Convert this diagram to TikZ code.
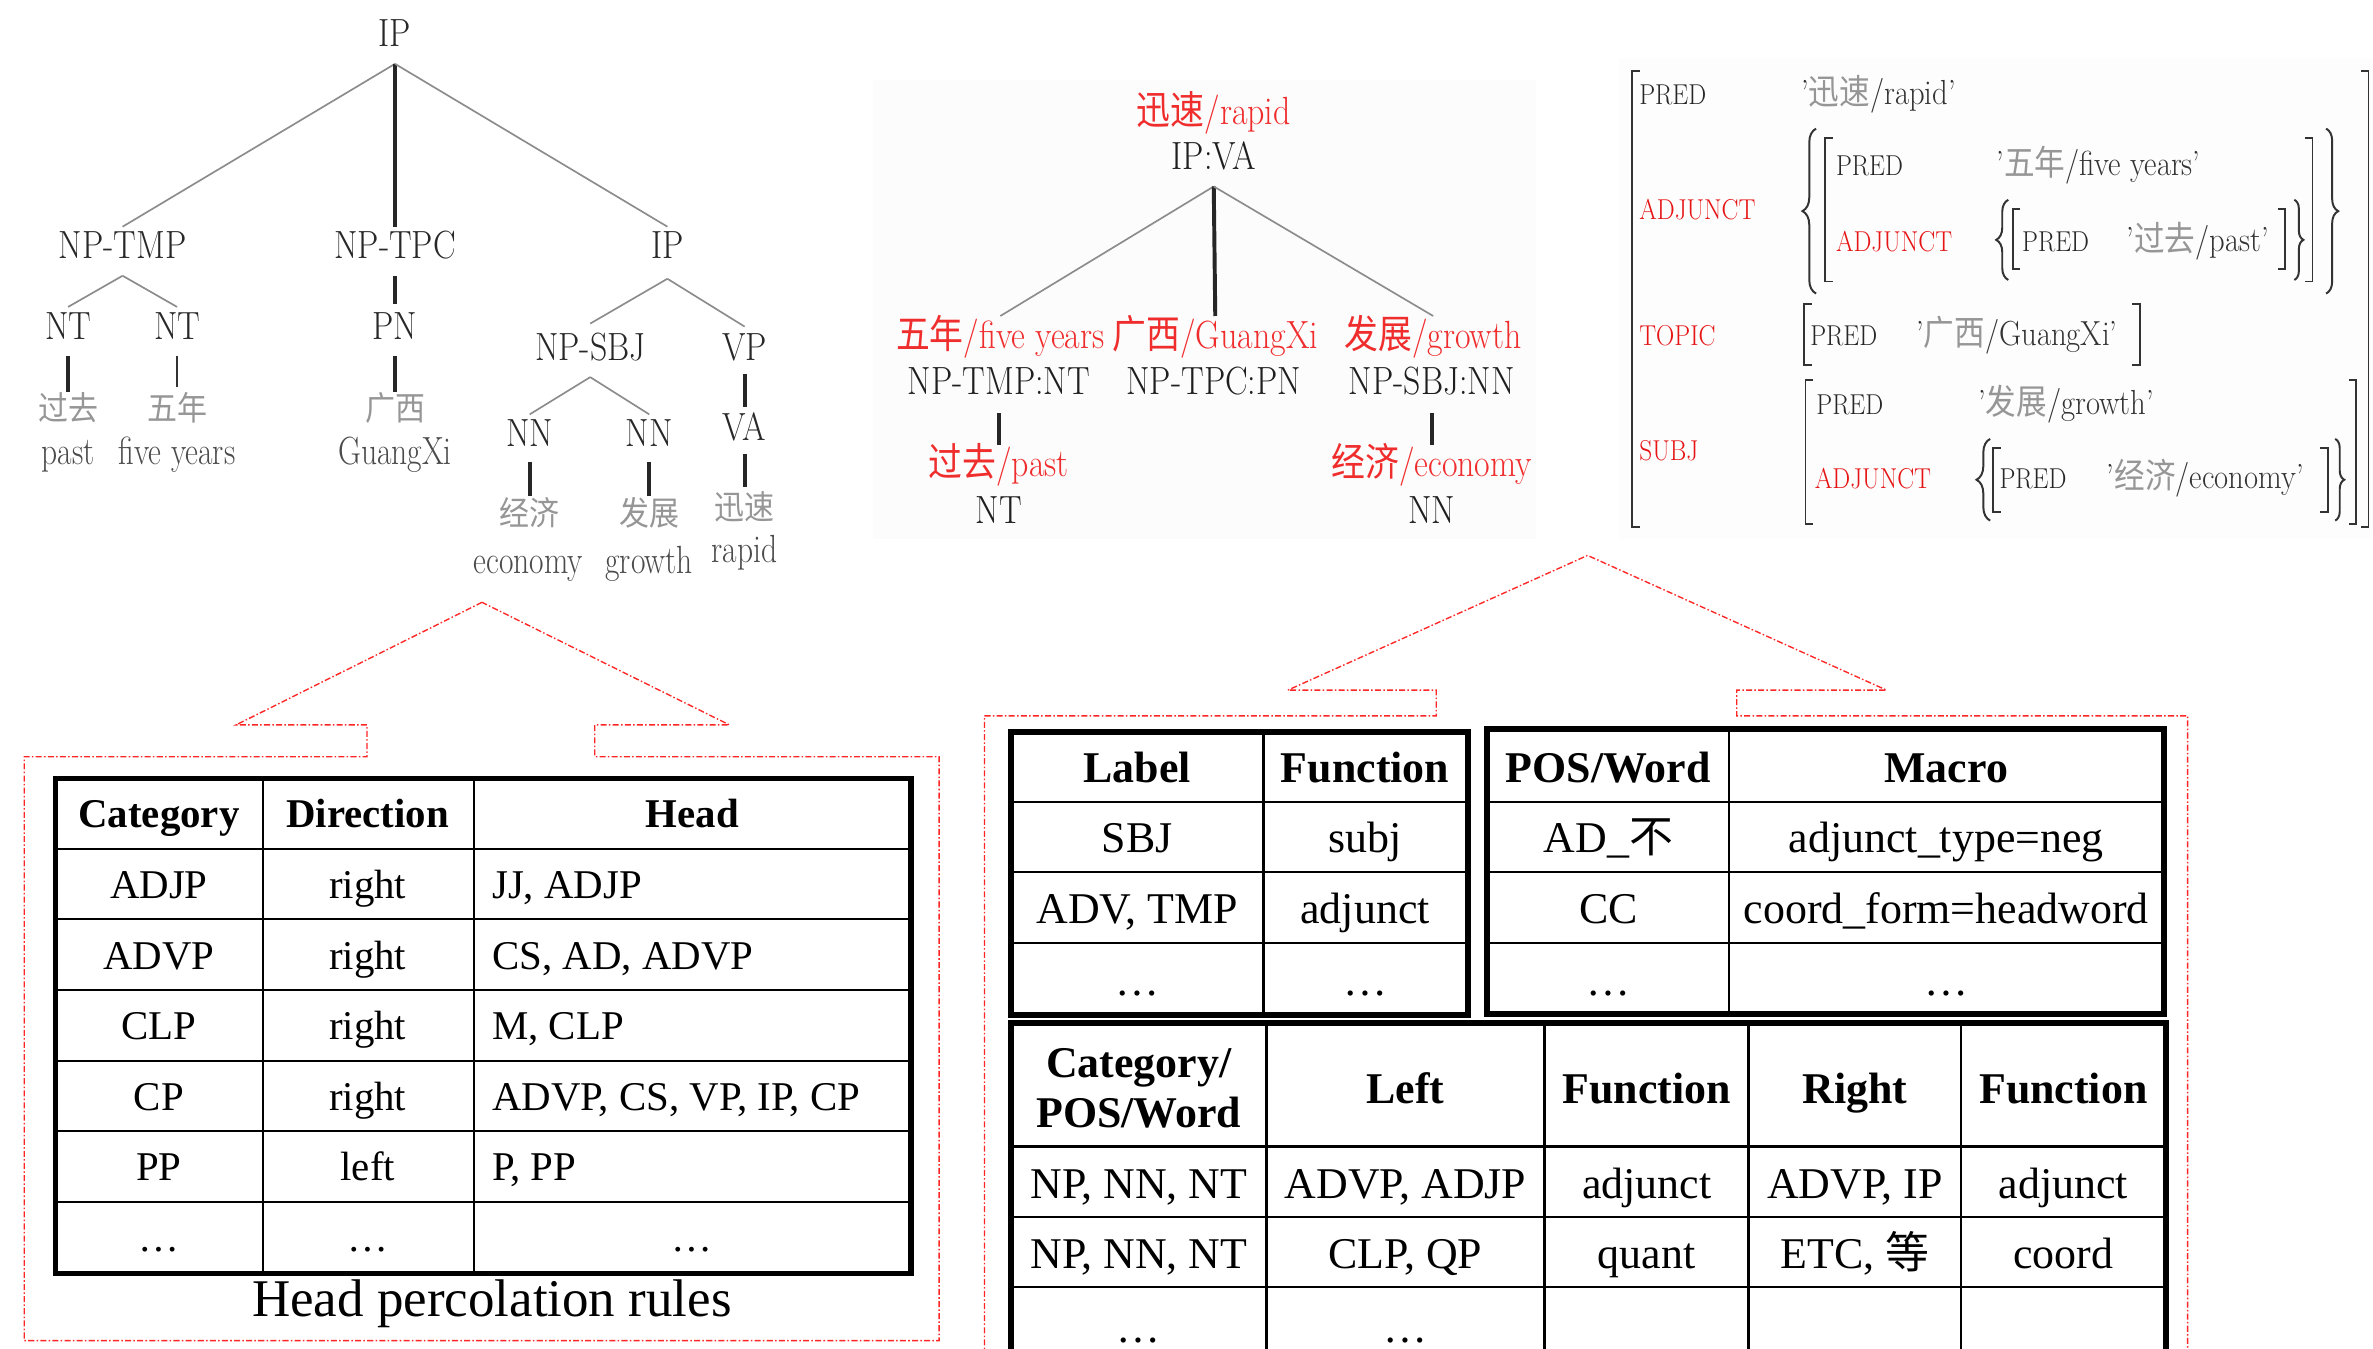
\documentclass[tikz,border=0pt]{standalone}
\usepackage{fontspec}
\newfontfamily\cjk{Noto Sans CJK SC}
\newfontfamily\tms{Liberation Serif}
\usetikzlibrary{decorations.pathreplacing}
\definecolor{rd}{RGB}{240,45,45}
\definecolor{avred}{RGB}{230,20,20}
\definecolor{lblc}{RGB}{40,40,40}
\definecolor{cjkg}{RGB}{150,150,150}
\definecolor{engg}{RGB}{75,75,75}
\definecolor{edgeg}{RGB}{140,140,140}
\newcommand{\sx}[1]{\scalebox{0.86}[1]{#1}}
\newcommand{\sw}[1]{\scalebox{0.8}[1]{#1}}
\newcommand{\sa}[1]{\scalebox{0.88}[1]{#1}}
\newcommand{\zh}[1]{{\cjk #1}}
\newcommand{\zg}[1]{{\cjk\color{cjkg}#1}}
\newcommand{\lbr}[3]{\draw[bk] (#1+5,#2) -- (#1,#2) -- (#1,#3) -- (#1+5,#3);}
\newcommand{\rbr}[3]{\draw[bk] (#1-5,#2) -- (#1,#2) -- (#1,#3) -- (#1-5,#3);}
\begin{document}
\begin{tikzpicture}[x=1pt,y=-1pt,
  tl/.style={font=\fontsize{26}{30}\selectfont, text=lblc, inner sep=0pt, anchor=base, text height=18pt, text depth=0pt},
  tz/.style={font=\fontsize{22}{26}\selectfont\cjk, text=cjkg, inner sep=0pt, anchor=base, text height=17pt, text depth=0pt},
  tw/.style={font=\fontsize{26}{30}\selectfont, text=engg, inner sep=0pt, anchor=base, text height=18pt, text depth=0pt},
  tr/.style={tl, text=rd},
  tb/.style={tl, text=black!88},
  ge/.style={draw=edgeg, line width=1.1pt},
  be/.style={draw=black!85, line width=2.6pt},
  al/.style={font=\fontsize{19}{22}\selectfont, text=black!85, inner sep=0pt, anchor=base west},
  alr/.style={al, text=avred},
  av/.style={font=\fontsize{23}{26}\selectfont, text=black!80, inner sep=0pt, anchor=base west},
  bk/.style={draw=black!80, line width=1.3pt},
  brc/.style={draw=black!80, line width=1.3pt, decorate, decoration={brace, amplitude=#1, aspect=0.5}},
  lt/.style={font=\tms\fontsize{27}{31}\selectfont, inner sep=0pt, anchor=base},
  ltb/.style={font=\tms\bfseries\fontsize{27}{31}\selectfont, inner sep=0pt, anchor=base},
  rt/.style={font=\tms\fontsize{29}{33}\selectfont, inner sep=0pt, anchor=base},
  rtb/.style={font=\tms\bfseries\fontsize{29}{33}\selectfont, inner sep=0pt, anchor=base},
  tbo/.style={line width=3.5pt},
  tbi/.style={line width=1.3pt},
  tro/.style={line width=4pt},
  tri/.style={line width=1.7pt},
  dsh/.style={draw=red!85!white, line width=0.9pt, dash pattern=on 4pt off 1.5pt on 1pt off 1.5pt},
]
\useasboundingbox (0,0) rectangle (1568,891);
\fill[white] (0,0) rectangle (1568,891);
\fill[black!1] (577,53) rectangle (1015,356);
\fill[black!0.7] (1070,38) rectangle (1568,356);

% ---------------- Tree 1 ----------------
\node[tl] (ipA) at (261,31) {\sx{IP}};
\node[tl] (nptmp) at (81,171) {\sx{NP-TMP}};
\node[tl] (nptpc) at (261,171) {\sx{NP-TPC}};
\node[tl] (ipB) at (441,171) {\sx{IP}};
\node[tl] (ntA) at (45,224) {\sx{NT}};
\node[tl] (ntB) at (117,224) {\sx{NT}};
\node[tl] (pnA) at (261,224) {\sx{PN}};
\node[tz] (zA) at (45,278) {\scalebox{0.9}[1]{过去}};
\node[tz] (zB) at (117,278) {\scalebox{0.9}[1]{五年}};
\node[tz] (zC) at (261,278) {\scalebox{0.9}[1]{广西}};
\node[tw] (wA) at (45,307) {\sw{past}};
\node[tw] (wB) at (117,307) {\sw{five years}};
\node[tw] (wC) at (261,307) {\sw{GuangXi}};
\node[tl] (npsbj) at (390,238) {\sx{NP-SBJ}};
\node[tl] (vpA) at (492,238) {\sx{VP}};
\node[tl] (nnA) at (350,295) {\sx{NN}};
\node[tl] (nnB) at (429,295) {\sx{NN}};
\node[tl] (vaA) at (492,291) {\sx{VA}};
\node[tz] (zD) at (350,347) {\scalebox{0.9}[1]{经济}};
\node[tz] (zE) at (429,347) {\scalebox{0.9}[1]{发展}};
\node[tz] (zF) at (492,343) {\scalebox{0.9}[1]{迅速}};
\node[tw] (wD) at (349,379) {\sw{economy}};
\node[tw] (wE) at (429,379) {\sw{growth}};
\node[tw] (wF) at (492,372) {\sw{rapid}};

\draw[ge] ([yshift=-11pt]ipA.south) -- ([yshift=3pt]nptmp.north);
\draw[be] ([yshift=-11pt]ipA.south) -- ([yshift=3pt]nptpc.north);
\draw[ge] ([yshift=-11pt]ipA.south) -- ([yshift=3pt]ipB.north);
\draw[ge] ([yshift=-11pt]nptmp.south) -- ([yshift=3pt]ntA.north);
\draw[ge] ([yshift=-11pt]nptmp.south) -- ([yshift=3pt]ntB.north);
\draw[be] ([yshift=-11pt]ntA.south) -- ([yshift=2pt]zA.north);
\draw[draw=black!80, line width=1.1pt] ([yshift=-11pt]ntB.south) -- ([yshift=5pt]zB.north);
\draw[be] ([yshift=-11pt]nptpc.south) -- ([yshift=5pt]pnA.north);
\draw[be] ([yshift=-11pt]pnA.south) -- ([yshift=2pt]zC.north);
\draw[ge] ([yshift=-13pt]ipB.south) -- ([yshift=6pt]npsbj.north);
\draw[ge] ([yshift=-13pt]ipB.south) -- ([yshift=4pt]vpA.north);
\draw[ge] ([yshift=-11pt]npsbj.south) -- ([yshift=3pt]nnA.north);
\draw[ge] ([yshift=-11pt]npsbj.south) -- ([yshift=3pt]nnB.north);
\draw[be] ([yshift=-10pt]nnA.south) -- ([yshift=2pt]zD.north);
\draw[be] ([yshift=-10pt]nnB.south) -- ([yshift=2pt]zE.north);
\draw[be] ([yshift=-9pt]vpA.south) -- ([yshift=4pt]vaA.north);
\draw[be] ([yshift=-9pt]vaA.south) -- ([yshift=4pt]zF.north);

% ---------------- Tree 2 ----------------
\node[tr] (rT) at (802,82) {\sx{\zh{迅速}/rapid}};
\node[tb] (ipva) at (802,112) {\sx{IP:VA}};
\node[tr] (rL) at (661,230) {\sx{\zh{五年}/five years}};
\node[tr] (rM) at (803,230) {\sx{\zh{广西}/GuangXi}};
\node[tr] (rR) at (947,230) {\sx{\zh{发展}/growth}};
\node[tb] (cL) at (660,261) {\sx{NP-TMP:NT}};
\node[tb] (cM) at (802,261) {\sx{NP-TPC:PN}};
\node[tb] (cR) at (946,261) {\sx{NP-SBJ:NN}};
\node[tr] (rL2) at (660,315) {\sx{\zh{过去}/past}};
\node[tr] (rR2) at (946,315) {\sx{\zh{经济}/economy}};
\node[tb] (cL2) at (660,346) {\sx{NT}};
\node[tb] (cR2) at (946,346) {\sx{NN}};
\draw[ge] ([yshift=-11pt]ipva.south) -- ([yshift=3pt]rL.north);
\draw[be] ([yshift=-11pt]ipva.south) -- ([yshift=3pt]rM.north);
\draw[ge] ([yshift=-11pt]ipva.south) -- ([yshift=3pt]rR.north);
\draw[be] ([yshift=-12pt]cL.south) -- ([yshift=3pt]rL2.north);
\draw[be] ([yshift=-12pt]cR.south) -- ([yshift=3pt]rR2.north);

% ---------------- AVM ----------------
\node[al] (p0) at (1083,69) {\sa{PRED}};
\node[av] (v0) at (1190,69) {\sa{'\zg{迅速}/rapid'}};
\node[alr] (a0) at (1083,145) {\sa{ADJUNCT}};
\node[al] (p1) at (1213,116) {\sa{PRED}};
\node[av] (v1) at (1319,116) {\sa{'\zg{五年}/five years'}};
\node[alr] (a1) at (1213,166) {\sa{ADJUNCT}};
\node[al] (p2) at (1336,166) {\sa{PRED}};
\node[av] (v2) at (1405,166) {\sa{'\zg{过去}/past'}};
\node[alr] (t0) at (1083,228) {\sa{TOPIC}};
\node[al] (p3) at (1196,228) {\sa{PRED}};
\node[av] (v3) at (1266,228) {\sa{'\zg{广西}/GuangXi'}};
\node[alr] (s0) at (1083,304) {\sa{SUBJ}};
\node[al] (p4) at (1200,274) {\sa{PRED}};
\node[av] (v4) at (1307,274) {\sa{'\zg{发展}/growth'}};
\node[alr] (a2) at (1199,323) {\sa{ADJUNCT}};
\node[al] (p5) at (1321,323) {\sa{PRED}};
\node[av] (v5) at (1392,323) {\sa{'\zg{经济}/economy'}};
\lbr{1078.6}{47}{348} \rbr{1565}{47}{348}
\draw[brc=9pt] (1200,194) -- (1200,85);
\lbr{1206}{91}{186} \rbr{1528}{91}{186}
\draw[brc=8pt] (1537,85) -- (1537,194);
\draw[brc=8pt] (1327,185) -- (1327,132);
\lbr{1330}{138}{178} \rbr{1510}{138}{178}
\draw[brc=6pt] (1516,132) -- (1516,185);
\lbr{1192}{201}{241} \rbr{1414}{201}{241}
\lbr{1193}{251}{346} \rbr{1557}{251}{346}
\draw[brc=9pt] (1315,344) -- (1315,290);
\lbr{1317}{296}{338} \rbr{1538}{296}{338}
\draw[brc=6pt] (1543,290) -- (1543,344);

% ---------------- dashed outlines ----------------
\draw[dsh] (318.5,398) -- (156,479) -- (242.5,479) -- (242.5,500) -- (16,500) -- (16,885.8) -- (620.5,885.8) -- (620.5,500) -- (393,500) -- (393,479) -- (482,479) -- cycle;
\draw[dsh] (650.5,905) -- (650.5,473) -- (949,473) -- (949,456) -- (851,456) -- (1049,367) -- (1246.5,456) -- (1147.6,456) -- (1147.6,473) -- (1445.5,473) -- (1445.5,905);

% ---------------- Left table ----------------
\draw[tbi] (173.5,514.5) -- (173.5,841.6) (313,514.5) -- (313,841.6);
\foreach \yy in {561,607.5,654,701,747,794} \draw[tbi] (36.5,\yy) -- (602,\yy);
\draw[tbo] (36.5,514.5) rectangle (602,841.6);
\node[ltb] (lh1) at (105,547) {Category};
\node[ltb] (lh2) at (243,547) {Direction};
\node[ltb] (lh3) at (457.5,547) {Head};
\node[lt] (l11) at (105,594) {ADJP};
\node[lt] (l12) at (243,594) {right};
\node[lt,anchor=base west] (l13) at (325,594) {JJ, ADJP};
\node[lt] (l21) at (105,640.5) {ADVP};
\node[lt] (l22) at (243,640.5) {right};
\node[lt,anchor=base west] (l23) at (325,640.5) {CS, AD, ADVP};
\node[lt] (l31) at (105,687) {CLP};
\node[lt] (l32) at (243,687) {right};
\node[lt,anchor=base west] (l33) at (325,687) {M, CLP};
\node[lt] (l41) at (105,733.5) {CP};
\node[lt] (l42) at (243,733.5) {right};
\node[lt,anchor=base west] (l43) at (325,733.5) {ADVP, CS, VP, IP, CP};
\node[lt] (l51) at (105,780) {PP};
\node[lt] (l52) at (243,780) {left};
\node[lt,anchor=base west] (l53) at (325,780) {P, PP};
\node[lt] (l61) at (105,827) {\ldots};
\node[lt] (l62) at (243,827) {\ldots};
\node[lt] (l63) at (457.5,827) {\ldots};
\node[font=\tms\fontsize{35}{40}\selectfont, inner sep=0pt, anchor=base] (ltitle) at (325,870) {Head percolation rules};

% ---------------- Right tables ----------------
\draw[tri] (834.7,483.6) -- (834.7,670.8);
\foreach \yy in {530,576.3,623} \draw[tri] (668,\yy) -- (969.8,\yy);
\draw[tro] (668,483.6) rectangle (969.8,670.8);
\node[rtb] (fh1) at (751.4,517) {Label};
\node[rtb] (fh2) at (902,517) {Function};
\node[rt] (f11) at (751.4,563.5) {SBJ};
\node[rt] (f12) at (902,563.5) {subj};
\node[rt] (f21) at (751.4,610) {ADV, TMP};
\node[rt] (f22) at (902,610) {adjunct};
\node[rt] (f31) at (751.4,658) {\ldots};
\node[rt] (f32) at (902,658) {\ldots};

\draw[tri] (1142.5,482) -- (1142.5,670);
\foreach \yy in {530,576.3,623} \draw[tri] (982.8,\yy) -- (1429.9,\yy);
\draw[tro] (982.8,482) rectangle (1429.9,670);
\node[rtb] (mh1) at (1062.7,517) {POS/Word};
\node[rtb] (mh2) at (1286,517) {Macro};
\node[rt] (m11) at (1062.7,563.5) {AD\_\zh{不}};
\node[rt] (m12) at (1286,563.5) {adjunct\_type=neg};
\node[rt] (m21) at (1062.7,610) {CC};
\node[rt] (m22) at (1286,610) {coord\_form=headword};
\node[rt] (m31) at (1062.7,658) {\ldots};
\node[rt] (m32) at (1286,658) {\ldots};

\foreach \xx in {837,1020.4,1155.5,1295.8} \draw[tri] (\xx,676) -- (\xx,905);
\foreach \yy in {757.4,804.1,850.4} \draw[tri] (668,\yy) -- (1431,\yy);
\draw[tro] (668,905) -- (668,676) -- (1431,676) -- (1431,905);
\node[rtb, align=center, anchor=center] (bh1) at (752.5,719) {Category/\\POS/Word};
\node[rtb] (bh2) at (928.7,729) {Left};
\node[rtb] (bh3) at (1088,729) {Function};
\node[rtb] (bh4) at (1225.6,729) {Right};
\node[rtb] (bh5) at (1363.4,729) {Function};
\node[rt] (b11) at (752.5,792) {NP, NN, NT};
\node[rt] (b12) at (928.7,792) {ADVP, ADJP};
\node[rt] (b13) at (1088,792) {adjunct};
\node[rt] (b14) at (1225.6,792) {ADVP, IP};
\node[rt] (b15) at (1363.4,792) {adjunct};
\node[rt] (b21) at (752.5,838.5) {NP, NN, NT};
\node[rt] (b22) at (928.7,838.5) {CLP, QP};
\node[rt] (b23) at (1088,838.5) {quant};
\node[rt] (b24) at (1225.6,838.5) {ETC, \zh{等}};
\node[rt] (b25) at (1363.4,838.5) {coord};
\node[rt] (b31) at (752.5,887) {\ldots};
\node[rt] (b32) at (928.7,887) {\ldots};
\end{tikzpicture}
\end{document}
